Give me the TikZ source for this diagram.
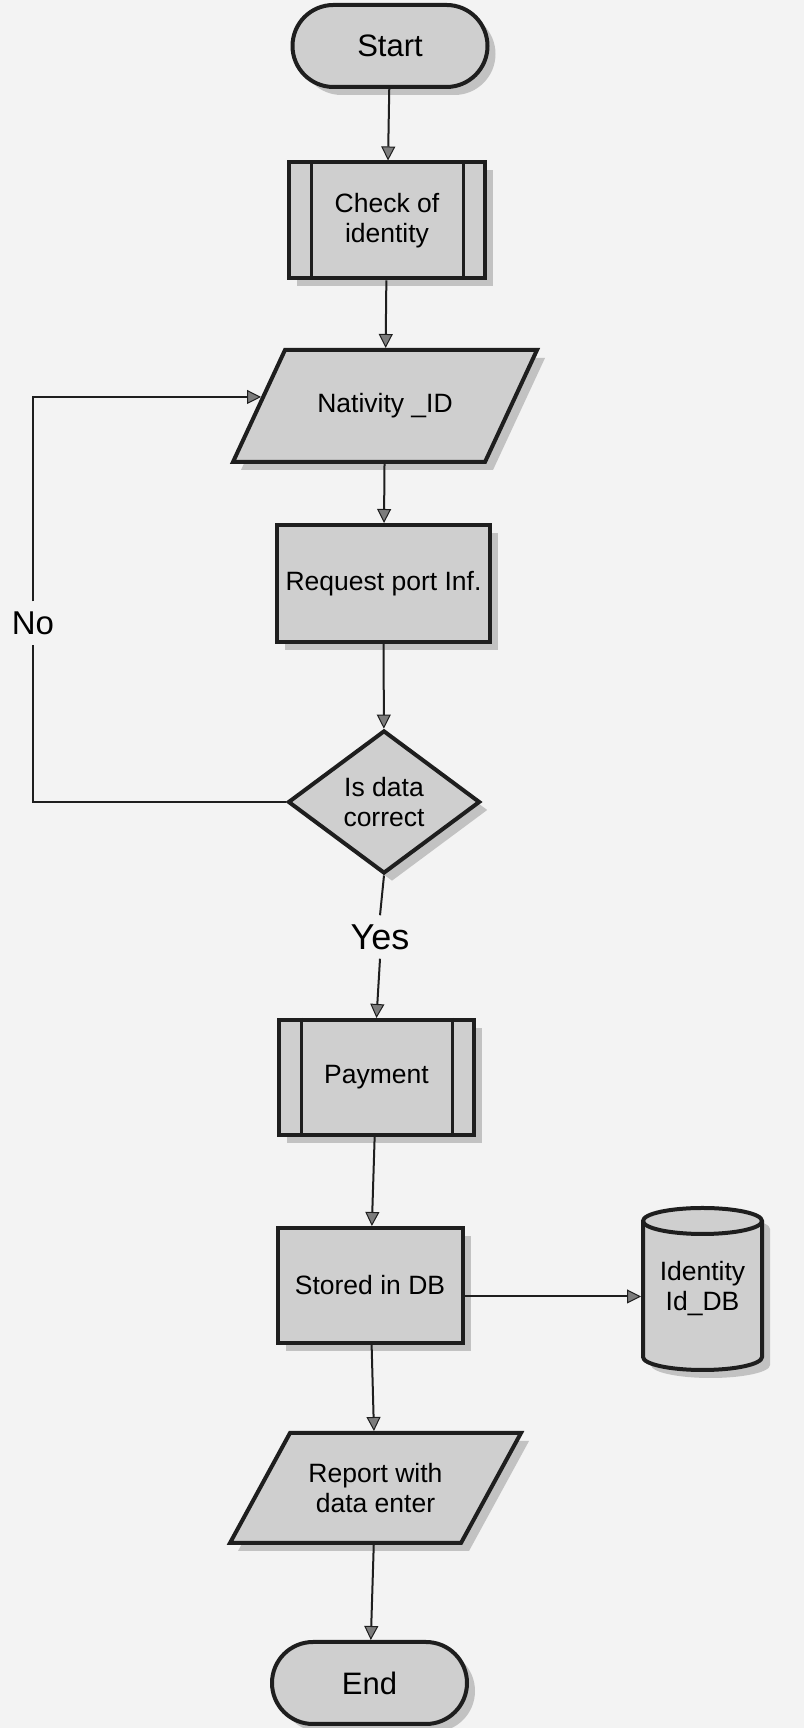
\documentclass[tikz,border=0pt]{standalone}
\usepackage{fontspec}
\setmainfont{Liberation Sans}
\usetikzlibrary{shapes.geometric,shapes.misc,arrows.meta,shadows,calc}
\definecolor{bgc}{HTML}{F3F3F3}
\definecolor{shapefill}{HTML}{CFCFCF}
\definecolor{edgec}{HTML}{1E1E1E}
\definecolor{shadc}{HTML}{C2C2C2}
\definecolor{tipc}{HTML}{7C7C7C}
\begin{document}
\begin{tikzpicture}[x=1pt,y=1pt,
  txt/.style={font=\fontsize{26.5}{30}\selectfont, align=center, inner sep=0pt},
  outline/.style={draw=edgec, line width=4pt, fill=shapefill},
  base/.style={txt, outline,
    drop shadow={shadow xshift=8pt,shadow yshift=-8pt,fill=shadc,opacity=1}},
  term/.style={base, rounded rectangle, minimum width=195pt, minimum height=82pt,
    font=\fontsize{31}{34}\selectfont},
  proc/.style={base, rectangle, minimum width=#1, minimum height=116pt},
  proc/.default=195pt,
  iobody/.style={txt, rectangle, outer sep=2pt},
  dec/.style={base, diamond, minimum width=192pt, minimum height=143pt, aspect=1.34},
  bar/.style={draw=edgec, line width=3pt},
  conn/.style={draw=edgec, line width=2pt},
  arr/.style={conn, -{Triangle[width=14pt,length=14pt,fill=tipc,line width=1pt]}},
  lbl/.style={inner sep=9pt}
]
\useasboundingbox (0,0) rectangle (804,1728);
\fill[bgc] (0,0) rectangle (804,1728);

% parallelogram outlines (input / output)
\def\natpath{(233,1266) -- (285,1378) -- (537,1378) -- (485,1266) -- cycle}
\def\reppath{(230,185) -- (290,295) -- (521,295) -- (461,185) -- cycle}
\begin{scope}[shift={(8,-8)}]
  \fill[shadc] \natpath;
  \fill[shadc] \reppath;
\end{scope}
\draw[outline] \natpath;
\draw[outline] \reppath;

% database cylinder
\def\cylpath{(643,507) -- (643,371) arc[start angle=180,end angle=360,x radius=59.5,y radius=13] -- (762,507) arc[start angle=0,end angle=180,x radius=59.5,y radius=13] -- cycle}
\begin{scope}[shift={(8,-8)}]
  \fill[shadc] \cylpath;
\end{scope}
\draw[outline] \cylpath;
\draw[draw=edgec, line width=4pt] (643,507) arc[start angle=180,end angle=360,x radius=59.5,y radius=13];

\node[term] (start) at (390,1682) {Start};
\node[proc=196pt] (chk) at (387,1507.5) {Check of\\identity};
\node[iobody, minimum width=252pt, minimum height=112pt] (nat) at (385,1322) {Nativity \_ID};
\node[proc=213pt, minimum height=117pt] (req) at (383.5,1144.5) {Request port Inf.};
\node[dec] (dia) at (384,926) {Is data\\correct};
\node[lbl, font=\fontsize{36}{40}\selectfont] (yes) at (380,791) {Yes};
\node[lbl, inner sep=10pt, font=\fontsize{33}{36}\selectfont] (no) at (33,1105) {No};
\node[proc=195pt, minimum height=115pt] (pay) at (376.5,650.5) {Payment};
\node[proc=185pt, minimum height=115pt] (sto) at (370,442.5) {Stored in DB};
\node[minimum width=119pt, minimum height=162pt, inner sep=0pt, outer sep=2pt,
      txt] (cyl) at (702.5,439) {Identity\\Id\_DB};
\node[iobody, minimum width=231pt, minimum height=110pt] (rep) at (375.5,240) {Report with\\data enter};
\node[term] (end) at (369.5,45) {End};

% predefined process bars
\foreach \n/\d in {chk/24pt, pay/24pt}{
  \draw[bar] ([xshift=\d]\n.north west) -- ([xshift=\d]\n.south west);
  \draw[bar] ([xshift=-\d]\n.north east) -- ([xshift=-\d]\n.south east);
}

% connectors
\draw[arr] (start) -- (chk);
\draw[arr] (chk) -- (nat);
\draw[arr] (nat) -- (req);
\draw[arr] (req) -- (dia);
\draw[conn] (dia.south) -- (yes.north);
\draw[arr] (yes.south) -- (pay.north);
\draw[arr] (pay) -- (sto);
\draw[arr] (sto) -- (rep);
\draw[arr] (rep) -- (end);
\draw[arr] ([yshift=-11pt]sto.east) -- ([yshift=-11pt]sto.east -| cyl.west);
\draw[conn] (dia.west) -| (no.south);
\draw[arr] (no.north) |- ([shift={(4pt,9pt)}]nat.west);
\end{tikzpicture}
\end{document}
